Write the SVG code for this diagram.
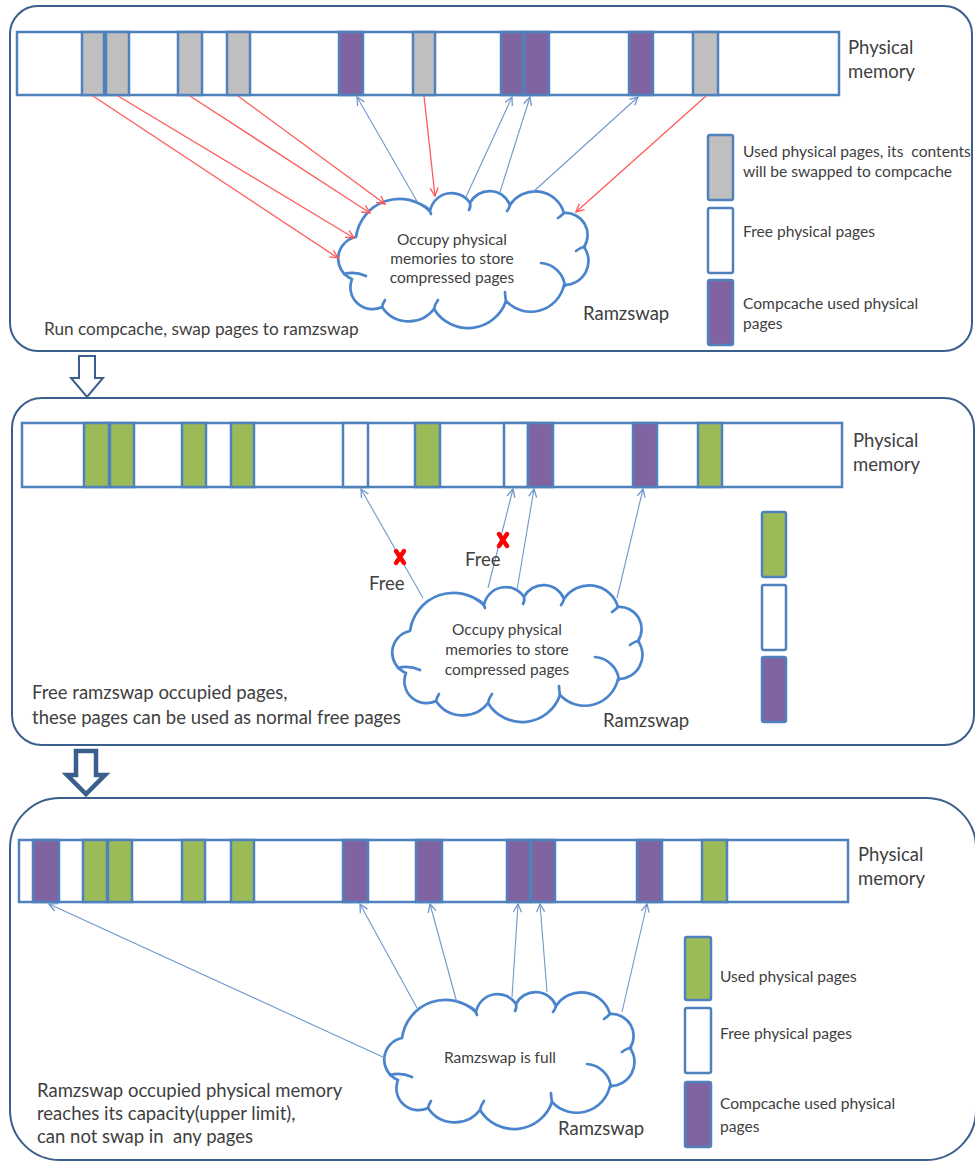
<svg xmlns="http://www.w3.org/2000/svg" xmlns:xlink="http://www.w3.org/1999/xlink" width="975" height="1162" viewBox="0 0 975 1162">
  <style>
    .panel { fill: #ffffff; stroke: #3b5f8c; stroke-width: 2; }
    .bar { fill: #ffffff; stroke: #4f81bd; stroke-width: 2.5; }
    .free { fill: #ffffff; stroke: #4f81bd; stroke-width: 2.5; }
    .gray { fill: #bfbfbf; stroke: #4f81bd; stroke-width: 2.5; }
    .purple { fill: #8064a2; stroke: #4f81bd; stroke-width: 2.5; }
    .green { fill: #9bbb59; stroke: #4f81bd; stroke-width: 2.5; }
    .cloud { fill: #ffffff; stroke: #4a84cc; stroke-width: 2.7; stroke-linejoin: round; }
    .hook { fill: none; stroke: #4a84cc; stroke-width: 2.7; stroke-linecap: round; }
    .red { stroke: #ff5a5a; stroke-width: 1.3; fill: none; marker-end: url(#ah-red); }
    .blue { stroke: #7097cc; stroke-width: 1.1; fill: none; marker-end: url(#ah-blue); }
    .down { fill: #ffffff; stroke: #3b5f8c; stroke-linejoin: miter; }
    .cross { stroke: #ff0000; stroke-width: 4.5; stroke-linecap: round; }
    text { font-family: Lato, "Liberation Sans", sans-serif; fill: #404040; white-space: pre; }
    .big { font-size: 18.5px; }
    .cap1 { font-size: 17.2px; }
    .leg { font-size: 15.6px; }
    .cl { font-size: 15.5px; text-anchor: middle; }
  </style>
  <defs>
    <marker id="ah-red" viewBox="0 0 10 10" refX="9" refY="5" markerWidth="10" markerHeight="10" markerUnits="userSpaceOnUse" orient="auto">
      <path d="M1,1 L9,5 L1,9" fill="none" stroke="#ff5a5a" stroke-width="1.4"/>
    </marker>
    <marker id="ah-blue" viewBox="0 0 10 10" refX="9" refY="5" markerWidth="10" markerHeight="10" markerUnits="userSpaceOnUse" orient="auto">
      <path d="M1,1 L9,5 L1,9" fill="none" stroke="#7097cc" stroke-width="1.3"/>
    </marker>
    <!-- cloud outline in a 252x140 local box, plus the inner curls -->
    <g id="cloud">
      <path class="cloud" d="M14,92 A22,22 0 0 1 18,50 A44,44 0 0 1 92,24 A22,22 0 0 1 132,16 A22,22 0 0 1 172,18 A30,30 0 0 1 226,26 A22,22 0 0 1 246,60 A24,24 0 0 1 226,98 A34,34 0 0 1 168,114 A40,40 0 0 1 96,122 A32,32 0 0 1 44,120 A22,22 0 0 1 14,92 Z"/>
      <path class="hook" d="M6,87 Q17,84 28,89"/>
      <path class="hook" d="M203,76 A26,26 0 0 1 227,99"/>
      <path class="hook" d="M238,64 Q243,60 247,60"/>
      <path class="hook" d="M86,19 Q91,21 93,27"/>
      <path class="hook" d="M132,16 Q133,20 131,23"/>
      <path class="hook" d="M172,18 Q171,22 169,24"/>
      <path class="hook" d="M226,26 Q223,29 220,31"/>
      <path class="hook" d="M44,120 Q45,116 47,113"/>
      <path class="hook" d="M96,122 Q97,117 100,113"/>
      <path class="hook" d="M168,114 Q167,109 167,105"/>
    </g>
  </defs>

  <!-- stage 1: swap pages to ramzswap -->
  <g id="panel-swap-out">
    <rect class="panel" x="10" y="6" width="962" height="345" rx="28" ry="28"/>
    <rect class="bar" x="17" y="32" width="822" height="63"/>
    <rect class="gray" x="82" y="32" width="22" height="63"/>
    <rect class="gray" x="106" y="32" width="23" height="63"/>
    <rect class="gray" x="178" y="32" width="24" height="63"/>
    <rect class="gray" x="227" y="32" width="23" height="63"/>
    <rect class="purple" x="339" y="32" width="24" height="63"/>
    <rect class="gray" x="413" y="32" width="22" height="63"/>
    <rect class="purple" x="501" y="32" width="22" height="63"/>
    <rect class="purple" x="524" y="32" width="25" height="63"/>
    <rect class="purple" x="629" y="32" width="24" height="63"/>
    <rect class="gray" x="693" y="32" width="25" height="63"/>
    <text class="big" x="848" y="54">Physical</text>
    <text class="big" x="848" y="78">memory</text>
  </g>
  <g id="cloud-1">
    <use xlink:href="#cloud" transform="translate(338,187)"/>
    <text class="cl" x="452" y="245">Occupy physical</text>
    <text class="cl" x="452" y="264">memories to store</text>
    <text class="cl" x="452" y="283">compressed pages</text>
    <text class="big" x="583" y="320">Ramzswap</text>
  </g>
  <g id="legend-1">
    <rect class="gray" x="708" y="135" width="25" height="65" rx="2"/>
    <rect class="free" x="708" y="208" width="25" height="65" rx="2"/>
    <rect class="purple" x="708" y="280" width="25" height="65" rx="2"/>
    <text class="leg" x="743" y="157">Used physical pages, its  contents</text>
    <text class="leg" x="743" y="177">will be swapped to compcache</text>
    <text class="leg" x="743" y="237">Free physical pages</text>
    <text class="leg" x="743" y="309">Compcache used physical</text>
    <text class="leg" x="743" y="329">pages</text>
  </g>
  <g id="caption-1">
    <text class="cap1" x="44" y="335">Run compcache, swap pages to ramzswap</text>
  </g>

  <!-- stage 2: free ramzswap pages -->
  <g id="panel-free">
    <rect class="panel" x="12" y="398" width="962" height="347" rx="30" ry="30"/>
    <rect class="bar" x="22" y="423" width="820" height="64"/>
    <rect class="green" x="84" y="423" width="25" height="64"/>
    <rect class="green" x="110" y="423" width="24" height="64"/>
    <rect class="green" x="182" y="423" width="24" height="64"/>
    <rect class="green" x="231" y="423" width="23" height="64"/>
    <rect class="free" x="343" y="423" width="25" height="64"/>
    <rect class="green" x="415" y="423" width="25" height="64"/>
    <rect class="free" x="504" y="423" width="24" height="64"/>
    <rect class="purple" x="528" y="423" width="25" height="64"/>
    <rect class="purple" x="633" y="423" width="24" height="64"/>
    <rect class="green" x="698" y="423" width="24" height="64"/>
    <text class="big" x="853" y="447">Physical</text>
    <text class="big" x="853" y="471">memory</text>
  </g>
  <g id="cloud-2">
    <use xlink:href="#cloud" transform="translate(392,581)"/>
    <text class="cl" x="507" y="635">Occupy physical</text>
    <text class="cl" x="507" y="655">memories to store</text>
    <text class="cl" x="507" y="675">compressed pages</text>
    <text class="big" x="603" y="727">Ramzswap</text>
  </g>
  <g id="legend-2">
    <rect class="green" x="762" y="512" width="24" height="65" rx="2"/>
    <rect class="free" x="762" y="585" width="24" height="65" rx="2"/>
    <rect class="purple" x="762" y="657" width="24" height="65" rx="2"/>
  </g>
  <g id="caption-2">
    <text class="big" x="32" y="699">Free ramzswap occupied pages,</text>
    <text class="big" x="32" y="724">these pages can be used as normal free pages</text>
  </g>

  <!-- stage 3: ramzswap full -->
  <g id="panel-full">
    <rect class="panel" x="10" y="798" width="966" height="362" rx="50" ry="50"/>
    <rect class="bar" x="19" y="840" width="829" height="62"/>
    <rect class="purple" x="33" y="840" width="26" height="62"/>
    <rect class="green" x="83" y="840" width="24" height="62"/>
    <rect class="green" x="108" y="840" width="24" height="62"/>
    <rect class="green" x="182" y="840" width="23" height="62"/>
    <rect class="green" x="231" y="840" width="23" height="62"/>
    <rect class="purple" x="343" y="840" width="25" height="62"/>
    <rect class="purple" x="416" y="840" width="26" height="62"/>
    <rect class="purple" x="507" y="840" width="23" height="62"/>
    <rect class="purple" x="531" y="840" width="24" height="62"/>
    <rect class="purple" x="637" y="840" width="25" height="62"/>
    <rect class="green" x="702" y="840" width="25" height="62"/>
    <text class="big" x="858" y="861">Physical</text>
    <text class="big" x="858" y="885">memory</text>
  </g>
  <g id="cloud-3">
    <use xlink:href="#cloud" transform="translate(384,988)"/>
    <text class="cl" x="500" y="1063">Ramzswap is full</text>
    <text class="big" x="558" y="1135">Ramzswap</text>
  </g>
  <g id="legend-3">
    <rect class="green" x="685" y="937" width="26" height="63" rx="2"/>
    <rect class="free" x="685" y="1008" width="26" height="65" rx="2"/>
    <rect class="purple" x="685" y="1082" width="26" height="65" rx="2"/>
    <text class="leg" x="720" y="982">Used physical pages</text>
    <text class="leg" x="720" y="1039">Free physical pages</text>
    <text class="leg" x="720" y="1109">Compcache used physical</text>
    <text class="leg" x="720" y="1132">pages</text>
  </g>
  <g id="caption-3">
    <text class="big" x="37" y="1097">Ramzswap occupied physical memory</text>
    <text class="big" x="37" y="1120">reaches its capacity(upper limit),</text>
    <text class="big" x="37" y="1143">can not swap in  any pages</text>
  </g>

  <!-- step arrows between stages -->
  <g id="step-arrows">
    <path class="down" stroke-width="2" d="M79,356 H95 V378 H103 L87,397 L71,378 H79 Z"/>
    <path class="down" stroke-width="4.5" d="M76,751 H96 V775 H105 L86,794 L67,775 H76 Z"/>
  </g>

  <g id="connectors">
    <!-- pages swapped out to the cloud -->
    <line class="red" x1="93" y1="96" x2="338" y2="258"/>
    <line class="red" x1="118" y1="96" x2="354" y2="238"/>
    <line class="red" x1="190" y1="96" x2="370" y2="213"/>
    <line class="red" x1="238" y1="96" x2="385" y2="204"/>
    <line class="red" x1="424" y1="96" x2="435" y2="196"/>
    <line class="red" x1="706" y1="96" x2="576" y2="212"/>
    <line class="blue" x1="418" y1="203" x2="357" y2="97"/>
    <line class="blue" x1="466" y1="197" x2="512" y2="97"/>
    <line class="blue" x1="500" y1="192" x2="530" y2="97"/>
    <line class="blue" x1="533" y1="192" x2="638" y2="97"/>
    <!-- stage 2 -->
    <line class="blue" x1="423" y1="598" x2="361" y2="489"/>
    <line class="blue" x1="488" y1="588" x2="513" y2="489"/>
    <line class="blue" x1="517" y1="590" x2="534" y2="489"/>
    <line class="blue" x1="617" y1="598" x2="643" y2="489"/>
    <!-- stage 3 -->
    <line class="blue" x1="385" y1="1058" x2="49" y2="904"/>
    <line class="blue" x1="417" y1="1008" x2="360" y2="904"/>
    <line class="blue" x1="457" y1="1003" x2="430" y2="904"/>
    <line class="blue" x1="512" y1="997" x2="518" y2="904"/>
    <line class="blue" x1="547" y1="992" x2="540" y2="904"/>
    <line class="blue" x1="622" y1="1012" x2="647" y2="904"/>
  </g>

  <g id="free-marks">
    <path class="cross" d="M396,551 L404,563 M404,551 L396,563"/>
    <path class="cross" d="M499,534 L507,546 M507,534 L499,546"/>
    <text class="big" x="369" y="590">Free</text>
    <text class="big" x="465" y="566">Free</text>
  </g>
</svg>
